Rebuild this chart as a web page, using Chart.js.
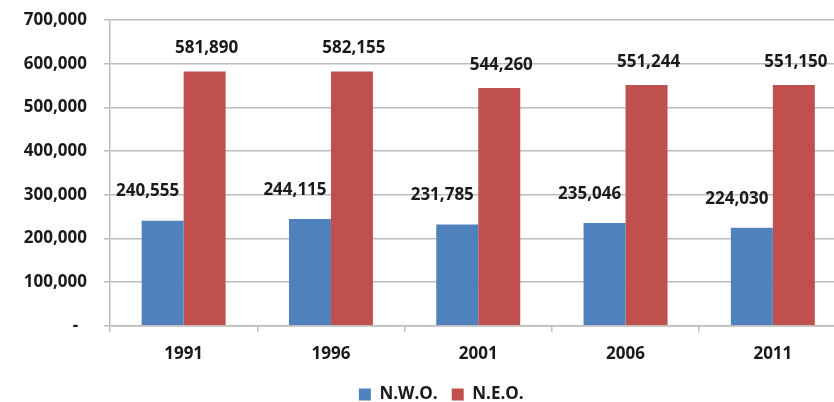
<!DOCTYPE html>
<html>
<head>
<meta charset="utf-8">
<script src="https://cdn.jsdelivr.net/npm/chart.js@4.4.1/dist/chart.umd.min.js"></script>
<style>
  html, body { margin: 0; padding: 0; background: #fff; overflow: hidden; }
  #wrap { width: 882px; height: 402px; position: relative; }
</style>
</head>
<body>
<div id="wrap"><canvas id="c"></canvas></div>
<script>
const categories = ['1991', '1996', '2001', '2006', '2011'];
const nwoValues = [240555, 244115, 231785, 235046, 224030];
const neoValues = [581890, 582155, 544260, 551244, 551150];
const seriesNames = ['N.W.O.', 'N.E.O.'];
const yTicks = [0, 100000, 200000, 300000, 400000, 500000, 600000, 700000];

const FONT = '"Open Sans", Lato, sans-serif';
const TEXT = '#1a1a1a';
const GRID = '#bcbcbc';

const fmt = v => v.toLocaleString('en-US');

const labelPlugin = {
  id: 'barLabels',
  afterLayout(chart) {
    const lg = chart.legend;
    if (lg) { lg.left += 6.5; lg.right += 6.5; }
  },
  afterDatasetsDraw(chart) {
    const ctx = chart.ctx;
    ctx.save();
    ctx.font = 'bold 17px ' + FONT;
    ctx.fillStyle = TEXT;
    ctx.textAlign = 'center';
    ctx.textBaseline = 'middle';
    chart.data.datasets.forEach((ds, di) => {
      const meta = chart.getDatasetMeta(di);
      meta.data.forEach((bar, i) => {
        const dx = di === 0 ? -15 : 2;
        const dy = di === 0 ? 29 : 23;
        ctx.fillText(fmt(ds.data[i]), bar.x + dx, bar.y - dy);
      });
    });
    ctx.restore();
  }
};

new Chart(document.getElementById('c'), {
  type: 'bar',
  data: {
    labels: categories,
    datasets: [
      { label: seriesNames[0], data: nwoValues, backgroundColor: '#4F81BD' },
      { label: seriesNames[1], data: neoValues, backgroundColor: '#C0504D' }
    ]
  },
  options: {
    responsive: true,
    maintainAspectRatio: false,
    animation: false,
    layout: { padding: { left: 23, right: 35.5, top: 20, bottom: 0 } },
    datasets: { bar: { barPercentage: 1.0, categoryPercentage: 0.57 } },
    plugins: {
      tooltip: { enabled: false },
      legend: {
        position: 'bottom',
        maxHeight: 30,
        labels: {
          boxWidth: 12, boxHeight: 12, padding: 14,
          color: TEXT,
          font: { family: FONT, size: 17, weight: 'bold' }
        }
      }
    },
    scales: {
      x: {
        afterFit(scale) { scale.height = 46.3; scale.paddingLeft = 0; scale.paddingRight = 0; },
        grid: { offset: true, drawOnChartArea: false, tickLength: 6, color: GRID, lineWidth: 1.5 },
        border: { display: true, color: GRID, width: 1.5 },
        ticks: { color: TEXT, padding: 12, font: { family: FONT, size: 17, weight: 'bold' } }
      },
      y: {
        min: 0, max: 700000,
        afterFit(scale) { scale.width = 87; scale.paddingTop = 0; scale.paddingBottom = 0; },
        afterBuildTicks(scale) { scale.ticks = yTicks.map(v => ({ value: v })); },
        grid: { color: GRID, lineWidth: 1.5, tickLength: 6 },
        border: { display: true, color: GRID, width: 1.5 },
        ticks: {
          color: TEXT, padding: 17,
          font: { family: FONT, size: 17, weight: 'bold' },
          callback: v => v === 0 ? '-  ' : fmt(v)
        }
      }
    }
  },
  plugins: [labelPlugin]
});
</script>
</body>
</html>
